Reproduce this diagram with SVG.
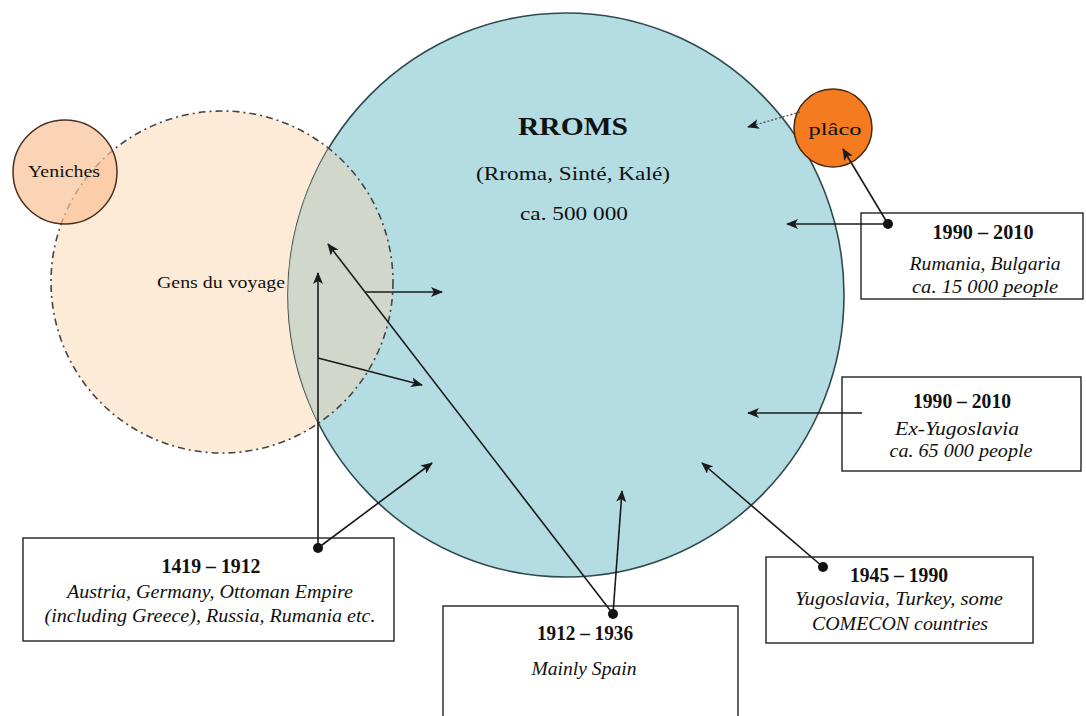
<svg xmlns="http://www.w3.org/2000/svg" width="1086" height="716" viewBox="0 0 1086 716">
<style>
.t{font-family:"Liberation Serif","DejaVu Serif",serif;fill:#111;text-anchor:middle}
.b{font-weight:bold}
.i{font-style:italic}
.box{fill:#fff;stroke:#222;stroke-width:1.4}
.ln{stroke:#1a1a1a;stroke-width:1.6;fill:none}
</style>
<defs>
<marker id="ah" viewBox="0 0 12 10" refX="11" refY="5" markerWidth="12" markerHeight="10" markerUnits="userSpaceOnUse" orient="auto">
<path d="M0,0 L12,5 L0,10 L3,5 Z" fill="#1a1a1a"/>
</marker>
<marker id="dot" viewBox="0 0 10 10" refX="5" refY="5" markerWidth="10" markerHeight="10" markerUnits="userSpaceOnUse">
<circle cx="5" cy="5" r="5" fill="#111"/>
</marker>
<clipPath id="blueClip"><ellipse cx="566" cy="295" rx="278" ry="282"/></clipPath>
</defs>
<rect width="1086" height="716" fill="#fff"/>

<g id="gens">
<circle cx="222" cy="282" r="171" fill="#fdebd8"/>
</g>
<g id="rroms">
<ellipse cx="566" cy="295" rx="278" ry="282" fill="#b4dde3" stroke="#2e4a4e" stroke-width="1.6"/>
<circle cx="222" cy="282" r="171" fill="#d6d7c7" fill-opacity="0.85" clip-path="url(#blueClip)"/>
<text class="t b" x="573" y="135" font-size="26" textLength="110" lengthAdjust="spacingAndGlyphs">RROMS</text>
<text class="t" x="573" y="180" font-size="19" textLength="194" lengthAdjust="spacingAndGlyphs">(Rroma, Sinté, Kalé)</text>
<text class="t" x="574" y="220" font-size="19" textLength="108" lengthAdjust="spacingAndGlyphs">ca. 500 000</text>
</g>
<g id="gens-outline">
<circle cx="222" cy="282" r="171" fill="none" stroke="#444" stroke-width="1.6" stroke-dasharray="7 4 2 4"/>
<text class="t" x="221" y="288" font-size="17" textLength="128" lengthAdjust="spacingAndGlyphs">Gens du voyage</text>
</g>
<g id="yeniches">
<circle cx="65" cy="172" r="52" fill="#f9c296" fill-opacity="0.7" stroke="#4a3020" stroke-width="1.5"/>
<text class="t" x="64" y="177" font-size="17" textLength="72" lengthAdjust="spacingAndGlyphs">Yeniches</text>
</g>
<g id="placo">
<circle cx="833" cy="128" r="39" fill="#f47b20" stroke="#4a2a10" stroke-width="1.5"/>
<text class="t" x="835" y="135" font-size="17" textLength="53" lengthAdjust="spacingAndGlyphs">plâco</text>
</g>

<g id="box-1990-rb">
<rect class="box" x="861" y="213" width="222" height="86"/>
<text class="t b" x="983" y="239" font-size="20" textLength="101" lengthAdjust="spacingAndGlyphs">1990 – 2010</text>
<text class="t i" x="985" y="270" font-size="19" textLength="151" lengthAdjust="spacingAndGlyphs">Rumania, Bulgaria</text>
<text class="t i" x="985" y="293" font-size="19" textLength="146" lengthAdjust="spacingAndGlyphs">ca. 15 000 people</text>
</g>
<g id="box-1990-ey">
<rect class="box" x="842" y="377" width="239" height="94"/>
<text class="t b" x="962" y="408" font-size="20" textLength="98" lengthAdjust="spacingAndGlyphs">1990 – 2010</text>
<text class="t i" x="957" y="435" font-size="19" textLength="124" lengthAdjust="spacingAndGlyphs">Ex-Yugoslavia</text>
<text class="t i" x="961" y="457" font-size="19" textLength="143" lengthAdjust="spacingAndGlyphs">ca. 65 000 people</text>
</g>
<g id="box-1945">
<rect class="box" x="766" y="557" width="267" height="86"/>
<text class="t b" x="899" y="582" font-size="20" textLength="98" lengthAdjust="spacingAndGlyphs">1945 – 1990</text>
<text class="t i" x="899" y="605" font-size="19" textLength="208" lengthAdjust="spacingAndGlyphs">Yugoslavia, Turkey, some</text>
<text class="t i" x="900" y="630" font-size="19" textLength="176" lengthAdjust="spacingAndGlyphs">COMECON countries</text>
</g>
<g id="box-1419">
<rect class="box" x="23" y="538" width="371" height="103"/>
<text class="t b" x="211" y="573" font-size="20" textLength="99" lengthAdjust="spacingAndGlyphs">1419 – 1912</text>
<text class="t i" x="210" y="598" font-size="19" textLength="286" lengthAdjust="spacingAndGlyphs">Austria, Germany, Ottoman Empire</text>
<text class="t i" x="210" y="622" font-size="19" textLength="331" lengthAdjust="spacingAndGlyphs">(including Greece), Russia, Rumania etc.</text>
</g>
<g id="box-1912">
<rect class="box" x="443" y="606" width="295" height="120"/>
<text class="t b" x="585" y="640" font-size="20" textLength="96" lengthAdjust="spacingAndGlyphs">1912 – 1936</text>
<text class="t i" x="584" y="675" font-size="19" textLength="105" lengthAdjust="spacingAndGlyphs">Mainly Spain</text>
</g>

<g id="connectors">
<line class="ln" x1="888" y1="224" x2="787" y2="224" marker-start="url(#dot)" marker-end="url(#ah)"/>
<line class="ln" x1="888" y1="224" x2="843" y2="149" marker-end="url(#ah)"/>
<line class="ln" x1="862" y1="413" x2="748" y2="413" marker-end="url(#ah)"/>
<line class="ln" x1="823" y1="567" x2="702" y2="463" marker-start="url(#dot)" marker-end="url(#ah)"/>
<line class="ln" x1="318" y1="548" x2="318" y2="273" marker-start="url(#dot)" marker-end="url(#ah)"/>
<line class="ln" x1="318" y1="358" x2="422" y2="385" marker-end="url(#ah)"/>
<line class="ln" x1="318" y1="548" x2="432" y2="463" marker-end="url(#ah)"/>
<line class="ln" x1="613" y1="614" x2="622" y2="491" marker-start="url(#dot)" marker-end="url(#ah)"/>
<line class="ln" x1="613" y1="614" x2="328" y2="244" marker-end="url(#ah)"/>
<line class="ln" x1="365" y1="292" x2="442" y2="292" marker-end="url(#ah)"/>
<line x1="800" y1="112" x2="748" y2="127" stroke="#555" stroke-width="1.4" stroke-dasharray="2 2" marker-end="url(#ah)"/>
</g>
</svg>
